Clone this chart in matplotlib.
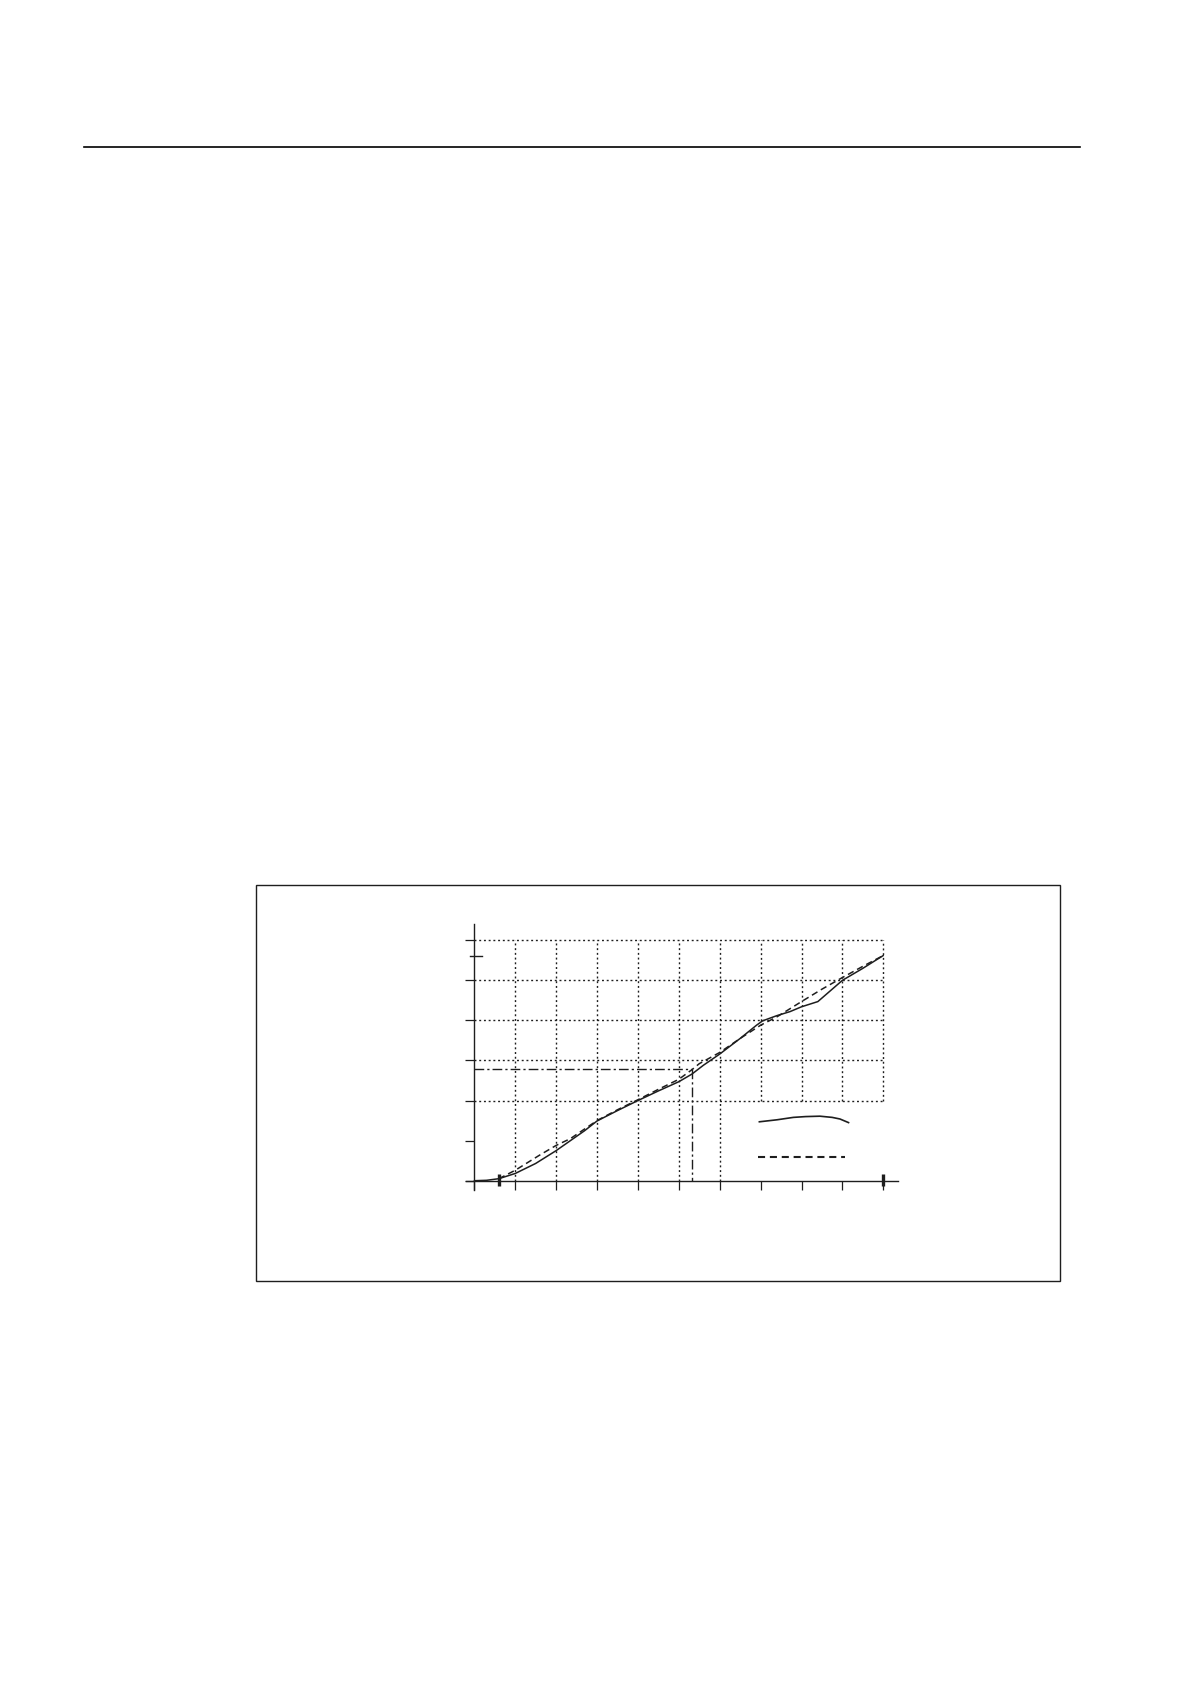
import matplotlib
matplotlib.use("Agg")
import matplotlib.pyplot as plt
from matplotlib.lines import Line2D
from matplotlib.patches import Rectangle

# ---- data ----
solid_x = [0, 0.3, 0.6, 1.0, 1.5, 2.0, 2.35, 2.7, 3.0, 3.5, 4.0, 4.5, 5.0, 5.32,
           5.6, 6.0, 6.5, 6.9, 7.05, 7.4, 7.72, 8.0, 8.4, 9.0, 9.5, 10.0]
solid_y = [0, 0.01, 0.05, 0.18, 0.43, 0.75, 1.0, 1.25, 1.49, 1.75, 2.0, 2.24, 2.47, 2.66,
           2.88, 3.16, 3.55, 3.88, 3.99, 4.12, 4.22, 4.34, 4.47, 5.0, 5.3, 5.62]

dash_x = [0.6, 1.0, 1.6, 2.0, 2.35, 3.0, 3.5, 4.0, 4.5, 5.0, 5.32, 5.5, 6.0, 6.5,
          7.0, 7.4, 8.0, 8.5, 9.0, 9.5, 10.0]
dash_y = [0.05, 0.26, 0.64, 0.88, 1.05, 1.5, 1.77, 2.02, 2.28, 2.53, 2.77, 2.92, 3.2, 3.55,
          3.88, 4.09, 4.47, 4.78, 5.07, 5.35, 5.62]

legend_solid_x = [6.97, 7.4, 7.8, 8.1, 8.45, 8.75, 8.94, 9.15]
legend_solid_y = [1.47, 1.52, 1.58, 1.60, 1.61, 1.58, 1.54, 1.45]
legend_dash_x = [6.94, 9.06]
legend_dash_y = [0.59, 0.59]

marker_x = 5.32
marker_y = 2.79

x_ticks = list(range(0, 11))
y_ticks = list(range(0, 7))
extra_y_tick = 5.6
thick_marks_x = [0.61, 10.0]

grid_h_levels = [2, 3, 4, 5, 6]
grid_v_full = [1, 2, 3, 4, 5, 6]
grid_v_upper = [7, 8, 9, 10]

# ---- figure ----
W, H = 1190, 1684
fig = plt.figure(figsize=(W / 100, H / 100), dpi=100)
fig.patch.set_facecolor("white")

ink = "#1e1e1e"

# top rule
fig.add_artist(Line2D([84 / W, 1080 / W], [1 - 147 / H, 1 - 147 / H],
                      color="black", lw=1.2))
# frame
fig.add_artist(Rectangle((255.7 / W, 1 - 1281.3 / H), (1060.3 - 255.7) / W,
                         (1281.3 - 885.3) / H, fill=False, ec=ink, lw=1.0))

# axes placement (pixel mapping)
x0px, xs = 474.3, 40.9
y0px, ys = 1180.7, 40.07
xmin, xmax = -0.21, 10.35
ymin, ymax = -0.23, 6.41
left = (x0px + xmin * xs) / W
right = (x0px + xmax * xs) / W
bottom = 1 - (y0px - ymin * ys) / H
top = 1 - (y0px - ymax * ys) / H
ax = fig.add_axes([left, bottom, right - left, top - bottom])
ax.set_xlim(xmin, xmax)
ax.set_ylim(ymin, ymax)
ax.set_facecolor("none")

for s in ["top", "right"]:
    ax.spines[s].set_visible(False)
ax.spines["left"].set_position(("data", 0))
ax.spines["bottom"].set_position(("data", 0))
for s in ["left", "bottom"]:
    ax.spines[s].set_color(ink)
    ax.spines[s].set_linewidth(1.0)
ax.spines["left"].set_bounds(ymin, ymax)
ax.spines["bottom"].set_bounds(xmin, xmax)

ax.set_xticks(x_ticks)
ax.set_yticks(y_ticks)
ax.set_xticklabels([])
ax.set_yticklabels([])
ax.tick_params(axis="x", direction="out", length=6.6, width=0.9, color=ink)
ax.tick_params(axis="y", direction="out", length=6.2, width=0.9, color=ink)

# grid (dotted)
dot = (0, (1.4, 2.0))
ax.hlines(grid_h_levels, 0, 10, colors=ink, linestyles=dot, lw=1.0)
ax.vlines(grid_v_full, 0, 6, colors=ink, linestyles=dot, lw=1.0)
ax.vlines(grid_v_upper, 2, 6, colors=ink, linestyles=dot, lw=1.0)

# extra short y tick
ax.plot([-0.1, 0.19], [extra_y_tick, extra_y_tick], color=ink, lw=1.0,
        clip_on=False)

# thick marks on x axis
ax.vlines(thick_marks_x, -0.125, 0.17, colors=ink, lw=2.4, clip_on=False)

# dash-dot crosshair
dd = (0, (7, 2.2, 1.6, 2.2))
ax.plot([0, marker_x], [marker_y, marker_y], color=ink, lw=1.0, linestyle=dd)
ax.plot([marker_x, marker_x], [marker_y, 0], color=ink, lw=1.0, linestyle=dd)

# curves
ax.plot(solid_x, solid_y, color=ink, lw=1.1, solid_capstyle="round")
ax.plot(dash_x, dash_y, color=ink, lw=1.1, linestyle=(0, (4.2, 2.6)))

# legend lines
ax.plot(legend_solid_x, legend_solid_y, color=ink, lw=1.2)
ax.plot(legend_dash_x, legend_dash_y, color=ink, lw=1.5, linestyle=(0, (3.4, 2.3)))

fig.savefig("out.png", dpi=100, facecolor="white")
